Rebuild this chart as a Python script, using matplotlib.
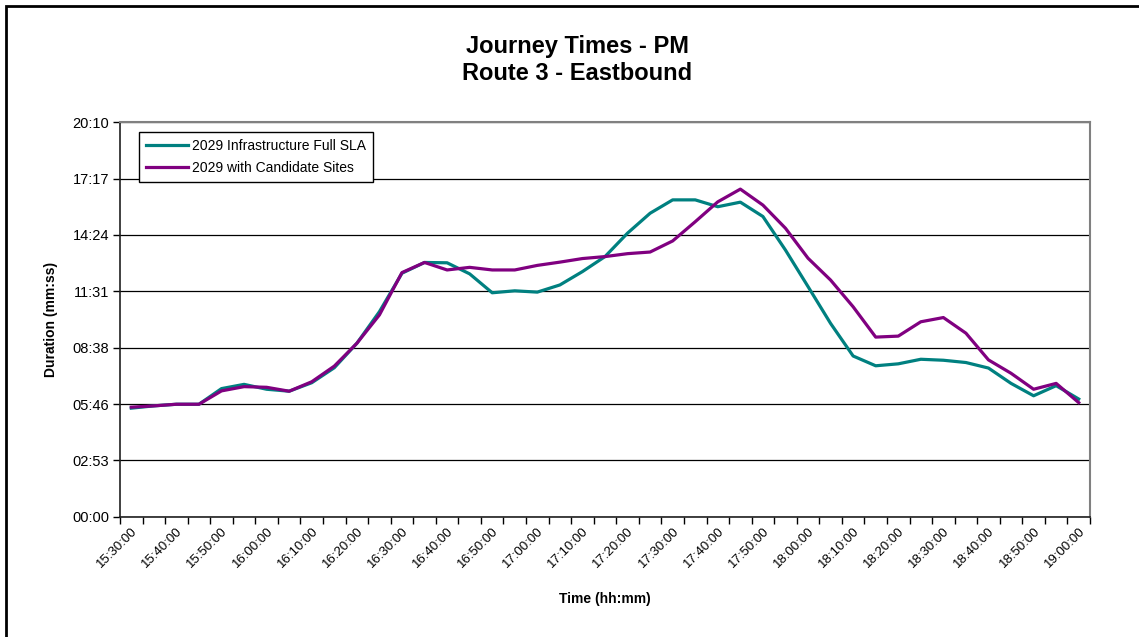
import matplotlib
matplotlib.use("Agg")
import matplotlib.pyplot as plt
from matplotlib.patches import Rectangle
from matplotlib.ticker import FixedLocator

plt.rcParams["font.family"] = ["Liberation Sans", "DejaVu Sans"]

# Five-minute departure slots, 15:30 to 19:00
times = ["15:30:00", "15:35:00", "15:40:00", "15:45:00", "15:50:00", "15:55:00",
         "16:00:00", "16:05:00", "16:10:00", "16:15:00", "16:20:00", "16:25:00",
         "16:30:00", "16:35:00", "16:40:00", "16:45:00", "16:50:00", "16:55:00",
         "17:00:00", "17:05:00", "17:10:00", "17:15:00", "17:20:00", "17:25:00",
         "17:30:00", "17:35:00", "17:40:00", "17:45:00", "17:50:00", "17:55:00",
         "18:00:00", "18:05:00", "18:10:00", "18:15:00", "18:20:00", "18:25:00",
         "18:30:00", "18:35:00", "18:40:00", "18:45:00", "18:50:00", "18:55:00",
         "19:00:00"]

# Journey durations in seconds
infra_full_sla = [333, 340, 345, 345, 393, 406, 391, 385, 411, 457, 532, 629,
                  747, 780, 779, 745, 687, 693, 689, 711, 752, 798, 870, 931,
                  972, 972, 951, 965, 921, 818, 706, 593, 493, 463, 469, 483,
                  480, 473, 456, 409, 371, 402, 361]
candidate_sites = [336, 340, 345, 345, 386, 399, 397, 385, 414, 462, 532, 619,
                   749, 780, 757, 765, 757, 757, 771, 781, 792, 798, 807, 812,
                   846, 905, 966, 1005, 956, 885, 793, 726, 644, 551, 554, 598,
                   611, 563, 481, 440, 391, 409, 350]

series_names = ["2029 Infrastructure Full SLA", "2029 with Candidate Sites"]
y_tick_labels = ["00:00", "02:53", "05:46", "08:38", "11:31", "14:24", "17:17", "20:10"]
y_max = 1210

W, H = 1139, 637
fig = plt.figure(figsize=(W / 100, H / 100), dpi=100)
fig.patch.set_facecolor("white")

# Outer chart frame
fig.patches.append(Rectangle((6 / W, -0.05), 1.2, 1 - 6 / H + 0.05,
                             transform=fig.transFigure, fill=False,
                             edgecolor="black", linewidth=2.0, zorder=0))

ax = fig.add_axes([120 / W, (H - 516.7) / H, 970 / W, 394.4 / H])

x = list(range(len(times)))
ax.plot(x, infra_full_sla, color="#008080", lw=2.3, label=series_names[0],
        solid_joinstyle="round", zorder=3)
ax.plot(x, candidate_sites, color="#800080", lw=2.3, label=series_names[1],
        solid_joinstyle="round", zorder=4)

ax.set_xlim(-0.5, len(times) - 0.5)
ax.set_ylim(0, y_max)

# Y axis: seven equal divisions
yticks = [y_max * k / 7 for k in range(8)]
ax.set_yticks(yticks)
ax.set_yticklabels(y_tick_labels, fontsize=10.5)
ax.grid(axis="y", color="black", lw=0.9)
ax.set_axisbelow(True)

# X axis: labels on every other slot, tick marks between slots
label_idx = list(range(0, len(times), 2))
ax.set_xticks(label_idx)
ax.set_xticklabels([times[i] for i in label_idx], rotation=45, ha="right",
                   rotation_mode="anchor", fontsize=9.5)
ax.xaxis.set_minor_locator(FixedLocator([i - 0.5 for i in range(len(times) + 1)]))
ax.tick_params(axis="x", which="major", length=0, pad=6)
ax.tick_params(axis="x", which="minor", length=5, width=1, color="black")
ax.tick_params(axis="y", length=5, width=1, color="black", pad=3)

for side in ("top", "right"):
    ax.spines[side].set_color("#808080")
    ax.spines[side].set_linewidth(1.5)
for side in ("left", "bottom"):
    ax.spines[side].set_color("#202020")
    ax.spines[side].set_linewidth(1.2)

ax.set_ylabel("Duration (mm:ss)", fontsize=10, fontweight="bold", labelpad=10)
ax.set_xlabel("Time (hh:mm)", fontsize=10, fontweight="bold", labelpad=16)

leg = ax.legend(loc="upper left", bbox_to_anchor=(19 / 970, 1 - 10 / 394.4),
                fontsize=10, frameon=True, fancybox=False, edgecolor="black",
                framealpha=1, borderpad=0.5, handlelength=3.0, handletextpad=0.3,
                labelspacing=0.55, borderaxespad=0)
leg.get_frame().set_linewidth(1.0)

fig.text(577 / W, 1 - 60 / H, "Journey Times - PM\nRoute 3 - Eastbound",
         ha="center", va="center", fontsize=17, fontweight="bold",
         linespacing=1.2)

fig.savefig("out.png", dpi=100, facecolor="white")
